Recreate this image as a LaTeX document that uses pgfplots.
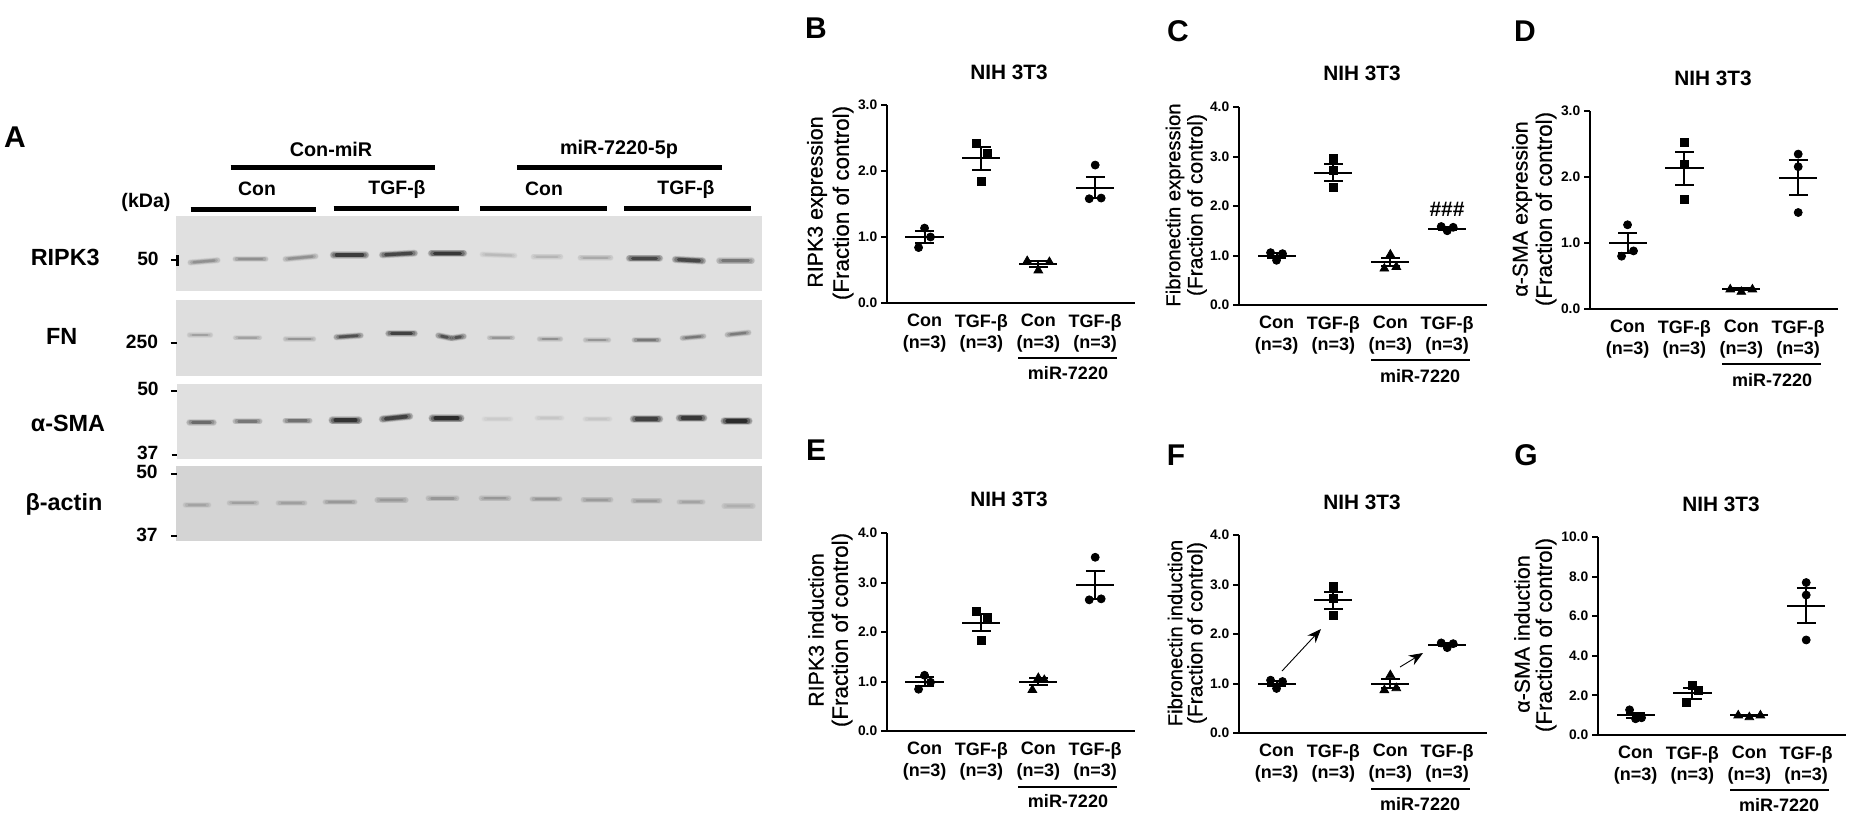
\documentclass[border=0pt]{standalone}
\usepackage{fontspec}
\setmainfont{Liberation Sans}
\newfontface\medfont{Liberation Sans}[FakeBold=0.5]
\usepackage{pgfplots}
\pgfplotsset{compat=1.18}
\usetikzlibrary{arrows.meta}

% sizes: 1 reference pixel = 0.5pt
\newcommand\fs[1]{\fontsize{#1}{#1}\selectfont}
\newcommand\T[4][]{\node[inner sep=0pt,#1] at (axis cs:#2,#3) {#4};}
% blot band with soft edge: x0 y0 x1 y1 width darkness
\newcommand\band[6]{%
  \addplot[black!#6,opacity=.14,line cap=round,line width=.8*#5pt+1.9pt,shorten <=1.2pt,shorten >=1.2pt] coordinates {(#1,#2)(#3,#4)};
  \addplot[black!#6,opacity=.22,line cap=round,line width=.8*#5pt+1.2pt,shorten <=1.2pt,shorten >=1.2pt] coordinates {(#1,#2)(#3,#4)};
  \addplot[black!#6,opacity=.32,line cap=round,line width=.8*#5pt+.6pt,shorten <=1.8pt,shorten >=1.8pt] coordinates {(#1,#2)(#3,#4)};
  \addplot[black!#6,opacity=.60,line cap=round,line width=.8*#5pt,shorten <=2.8pt,shorten >=2.8pt] coordinates {(#1,#2)(#3,#4)};
}
\newcommand\gbar[3]{\addplot[black,line width=2.6pt] coordinates {(#1,#3)(#2,#3)};}
\newcommand\blot[5]{\addplot[draw=none,fill=#5] coordinates {(#1,#3)(#2,#3)(#2,#4)(#1,#4)} -- cycle;}
\newcommand\kd[2]{\addplot[black,line width=1pt] coordinates {(#1,#2)(176.5,#2)};}

\pgfplotsset{
  panel/.style n args={4}{
    at={({#1*0.5pt},{(816-#2)*0.5pt})}, anchor=south west,
    scale only axis, width=124pt, height=99pt, clip=false,
    xmin=0.34, xmax=4.70, ymin=0, ymax=#3, ytick={#4},
    axis lines=left, axis line style={-,line width=1.25pt},
    tick align=outside, major tick length=3pt,
    ytick style={black,line width=1pt}, xtick style={draw=none},
    xtick={1,2,3,4},
    xticklabels={{Con\\(n=3)},{TGF-β\\(n=3)},{Con\\(n=3)},{TGF-β\\(n=3)}},
    x tick label style={align=center,font=\bfseries\fontsize{9}{10.8}\selectfont,yshift=1pt},
    y tick label style={font=\bfseries\fs{6.9},inner sep=1.7pt},
    /pgf/number format/.cd,fixed,fixed zerofill,precision=1,assume math mode=true,
  },
  circ/.style={only marks,mark=*,mark size=2pt,black},
  sq/.style={only marks,mark=square*,mark size=2pt,black},
  tri/.style={only marks,mark=triangle*,mark size=2.5pt,black},
  sem/.style={draw=none,mark=none,
    error bars/.cd,y dir=both,y explicit,
    error bar style={draw=black,line width=1pt},
    error mark options={draw=black,rotate=90,mark size=4.65pt,line width=1pt}},
  mean/.style={draw=none,mark=none,
    error bars/.cd,x dir=both,x fixed=0.335,error mark=none,
    error bar style={draw=black,line width=1pt}},
}

\begin{document}
\begin{tikzpicture}
\useasboundingbox (0,0) rectangle (925.5pt,408pt);

% page layer in reference pixels: blots, headings, labels
\begin{axis}[at={(0,0)},anchor=south west,scale only axis,width=925.5pt,height=408pt,
  xmin=0,xmax=1851,ymin=0,ymax=816,y dir=reverse,hide axis,clip=false]
\blot{176}{761.7}{216}{290.7}{black!12}
\blot{176}{761.7}{300}{376}{black!13}
\blot{177}{761.7}{384}{459}{black!12}
\blot{176}{761.7}{466}{541}{black!17}

\band{188}{262.7}{220}{260}{1.5}{50}
\band{233}{259}{268}{259}{1.5}{50}
\band{283}{259.3}{318}{256}{1.5}{50}
\band{331}{255}{368}{255}{2.2}{90}
\band{380}{255}{417}{253}{2.0}{85}
\band{429}{253.3}{466}{253.3}{2.2}{92}
\band{480}{254.3}{517}{255.7}{1.3}{30}
\band{531}{256.7}{563}{256.7}{1.3}{32}
\band{578}{257.7}{613}{257.7}{1.4}{38}
\band{627}{258.3}{662}{258.3}{2.2}{85}
\band{673}{259.3}{705}{261}{2.2}{85}
\band{717}{260.7}{754}{260.7}{2.0}{62}

\band{187}{335}{213}{335}{1.0}{42}
\band{233}{337.7}{262}{337.7}{1.0}{42}
\band{283}{339}{316}{339}{1.0}{48}
\band{334}{337.3}{363}{335.3}{1.6}{80}
\band{386}{333.3}{417}{333.3}{1.7}{88}
\band{436}{335}{453}{338.5}{1.7}{80}
\band{450}{338.5}{466}{336}{1.7}{80}
\band{487}{337.7}{515}{337.7}{1.0}{48}
\band{537}{339}{563}{339}{1.0}{50}
\band{583}{340}{611}{340}{1.0}{48}
\band{632}{340}{661}{340}{1.3}{62}
\band{680}{338.3}{706}{336}{1.3}{62}
\band{725}{335}{751}{332.3}{1.4}{60}

\band{187}{422.3}{216}{422.3}{1.7}{68}
\band{233}{421.3}{262}{421.3}{1.6}{62}
\band{283}{420.7}{312}{420.7}{1.6}{65}
\band{330}{420.3}{361}{420.3}{2.7}{95}
\band{380}{419.3}{412}{416}{2.3}{88}
\band{430}{418.3}{463}{418.3}{2.7}{98}
\band{482}{419}{513}{419}{1.4}{22}
\band{535}{418}{564}{418}{1.4}{24}
\band{583}{419}{612}{419}{1.4}{24}
\band{631}{419}{662}{419}{2.4}{88}
\band{677}{418}{706}{418}{2.5}{92}
\band{722}{421}{751}{421}{2.8}{98}

\band{183}{505}{211}{505}{1.2}{40}
\band{227}{502.7}{259}{502.7}{1.2}{42}
\band{276}{503}{307}{503}{1.3}{42}
\band{323}{502}{357}{502}{1.4}{45}
\band{375}{500}{408}{500}{1.7}{45}
\band{426}{498.3}{459}{498.3}{1.5}{46}
\band{479}{498.3}{511}{498.3}{1.4}{46}
\band{530}{499}{562}{499}{1.5}{46}
\band{581}{499.7}{613}{499.7}{1.5}{44}
\band{631}{500.7}{662}{500.7}{1.5}{44}
\band{677}{502}{705}{502}{1.5}{40}
\band{722}{506}{755}{506}{1.8}{34}

\gbar{230.7}{434.7}{167.3}
\gbar{517.3}{721.7}{167.3}
\gbar{190.7}{316}{209.3}
\gbar{333.7}{459.3}{208.3}
\gbar{480}{606.7}{208.3}
\gbar{624.3}{750.7}{208.3}
\kd{171}{260}\kd{170.5}{343}\kd{171}{391}\kd{171.5}{455}\kd{171}{474}\kd{171}{536}
\addplot[black,line width=1.3pt] coordinates {(177.5,255)(177.5,266)};

\T[font=\bfseries\fs{9.9}]{331}{149.3}{Con-miR}
\T[font=\bfseries\fs{9.9}]{619}{149.5}{miR-7220-5p}
\T[font=\bfseries\fs{9.7}]{257}{189.3}{Con}
\T[font=\bfseries\fs{9.7}]{397}{189.3}{TGF-β}
\T[font=\bfseries\fs{9.7}]{544}{189.3}{Con}
\T[font=\bfseries\fs{9.7}]{686}{189.3}{TGF-β}
\T[font=\bfseries\fs{9.8}]{146}{202.7}{(kDa)}
\T[font=\bfseries\fs{11.7}]{65.3}{257}{RIPK3}
\T[font=\bfseries\fs{11.7}]{61.7}{336.7}{FN}
\T[font=\bfseries\fs{11.7}]{68}{423}{α-SMA}
\T[font=\bfseries\fs{11.7}]{64}{504}{β-actin}
\T[font=\bfseries\fs{9.6}]{148}{259}{50}
\T[font=\bfseries\fs{9.6}]{142}{342}{250}
\T[font=\bfseries\fs{9.6}]{148}{389}{50}
\T[font=\bfseries\fs{9.6}]{147.7}{453}{37}
\T[font=\bfseries\fs{9.6}]{147}{472}{50}
\T[font=\bfseries\fs{9.6}]{147}{535}{37}

\T[font=\bfseries\fs{15}]{15}{137}{A}
\T[font=\bfseries\fs{15}]{816}{28}{B}
\T[font=\bfseries\fs{15}]{1178}{31}{C}
\T[font=\bfseries\fs{15}]{1525}{31}{D}
\T[font=\bfseries\fs{15}]{816}{450}{E}
\T[font=\bfseries\fs{15}]{1176}{455}{F}
\T[font=\bfseries\fs{15}]{1526}{455}{G}

\T[font=\bfseries\fs{10.4}]{1009}{72}{NIH 3T3}
\T[font=\bfseries\fs{10.4}]{1362}{73}{NIH 3T3}
\T[font=\bfseries\fs{10.4}]{1713}{78}{NIH 3T3}
\T[font=\bfseries\fs{10.4}]{1009}{499}{NIH 3T3}
\T[font=\bfseries\fs{10.4}]{1362}{502}{NIH 3T3}
\T[font=\bfseries\fs{10.4}]{1721}{504}{NIH 3T3}

\T[rotate=90,font=\medfont\fs{10.7}]{817}{202}{RIPK3 expression}
\T[rotate=90,font=\medfont\fs{11.2}]{843}{203}{(Fraction of control)}
\T[rotate=90,font=\medfont\fs{10.1}]{1175}{205}{Fibronectin expression}
\T[rotate=90,font=\medfont\fs{10.5}]{1197}{205}{(Fraction of control)}
\T[rotate=90,font=\medfont\fs{10.7}]{1522}{209}{α-SMA expression}
\T[rotate=90,font=\medfont\fs{11.2}]{1546}{209}{(Fraction of control)}
\T[rotate=90,font=\medfont\fs{10.7}]{816}{630}{RIPK3 induction}
\T[rotate=90,font=\medfont\fs{11.2}]{842}{630}{(Fraction of control)}
\T[rotate=90,font=\medfont\fs{10.1}]{1175}{633}{Fibronectin induction}
\T[rotate=90,font=\medfont\fs{10.5}]{1197}{633}{(Fraction of control)}
\T[rotate=90,font=\medfont\fs{10.7}]{1522}{634}{α-SMA induction}
\T[rotate=90,font=\medfont\fs{11.2}]{1546}{635}{(Fraction of control)}

\T[font=\bfseries\fs{10.5}]{1447}{209}{\#\#\#}

\addplot[black,line width=1pt] coordinates {(1018,358)(1117,358)};
\addplot[black,line width=1pt] coordinates {(1371,360)(1470,360)};
\addplot[black,line width=1pt] coordinates {(1722,364)(1821,364)};
\addplot[black,line width=1pt] coordinates {(1018,787)(1117,787)};
\addplot[black,line width=1pt] coordinates {(1371,789)(1470,789)};
\addplot[black,line width=1pt] coordinates {(1730,790)(1829,790)};
\T[font=\bfseries\fs{9}]{1068}{373}{miR-7220}
\T[font=\bfseries\fs{9}]{1420}{376}{miR-7220}
\T[font=\bfseries\fs{9}]{1772}{380}{miR-7220}
\T[font=\bfseries\fs{9}]{1068}{801}{miR-7220}
\T[font=\bfseries\fs{9}]{1420}{804}{miR-7220}
\T[font=\bfseries\fs{9}]{1779}{805}{miR-7220}

\addplot[black,line width=.45pt,-{Stealth[length=7pt,width=5.5pt]}] coordinates {(1282,671)(1321,629)};
\addplot[black,line width=.45pt,-{Stealth[length=7pt,width=5.5pt]}] coordinates {(1400,667)(1423,653)};
\end{axis}

% B
\begin{axis}[panel={887}{303}{3}{0,1,2,3}]
\addplot[circ] coordinates {(1,1.135)(1.105,1.0)(0.895,0.84)};
\addplot[sq] coordinates {(1.905,2.42)(2.105,2.27)(2,1.85)};
\addplot[tri] coordinates {(2.805,0.635)(3,0.494)(3.195,0.62)};
\addplot[circ] coordinates {(4,2.09)(3.895,1.58)(4.105,1.59)};
\addplot[sem] coordinates {(1,1.0) +- (0,0.095) (2,2.19) +- (0,0.18) (3,0.585) +- (0,0.045) (4,1.75) +- (0,0.165)};
\addplot[mean] coordinates {(1,1.0)(2,2.19)(3,0.585)(4,1.75)};
\end{axis}

% C
\begin{axis}[panel={1239}{305}{4}{0,1,2,3,4}]
\addplot[circ] coordinates {(0.895,1.057)(1,0.903)(1.105,1.037)};
\addplot[sq] coordinates {(2,2.956)(2,2.71)(2,2.37)};
\addplot[tri] coordinates {(3,1.017)(2.895,0.736)(3.105,0.77)};
\addplot[circ] coordinates {(3.895,1.585)(4,1.5)(4.105,1.57)};
\addplot[sem] coordinates {(1,1.0) +- (0,0.045) (2,2.676) +- (0,0.17) (3,0.87) +- (0,0.088) (4,1.545) +- (0,0.025)};
\addplot[mean] coordinates {(1,1.0)(2,2.676)(3,0.87)(4,1.545)};
\end{axis}

% D
\begin{axis}[panel={1590}{309}{3}{0,1,2,3}]
\addplot[circ] coordinates {(1,1.276)(1.105,0.88)(0.895,0.80)};
\addplot[sq] coordinates {(2,2.52)(2,2.196)(2,1.658)};
\addplot[tri] coordinates {(2.805,0.296)(3,0.26)(3.195,0.296)};
\addplot[circ] coordinates {(4,2.347)(4,2.156)(4,1.462)};
\addplot[sem] coordinates {(1,1.0) +- (0,0.15) (2,2.13) +- (0,0.25) (3,0.296) +- (0,0.015) (4,1.99) +- (0,0.27)};
\addplot[mean] coordinates {(1,1.0)(2,2.13)(3,0.296)(4,1.99)};
\end{axis}

% E
\begin{axis}[panel={887}{731}{4}{0,1,2,3,4}]
\addplot[circ] coordinates {(1,1.126)(1.105,0.985)(0.895,0.844)};
\addplot[sq] coordinates {(1.905,2.425)(2.105,2.29)(2,1.84)};
\addplot[tri] coordinates {(3,1.07)(3.105,1.03)(2.895,0.83)};
\addplot[circ] coordinates {(4,3.51)(3.895,2.65)(4.105,2.67)};
\addplot[sem] coordinates {(1,1.0) +- (0,0.09) (2,2.19) +- (0,0.175) (3,1.0) +- (0,0.075) (4,2.95) +- (0,0.28)};
\addplot[mean] coordinates {(1,1.0)(2,2.19)(3,1.0)(4,2.95)};
\end{axis}

% F
\begin{axis}[panel={1239}{733}{4}{0,1,2,3,4}]
\addplot[circ] coordinates {(0.895,1.067)(1,0.9)(1.105,1.04)};
\addplot[sq] coordinates {(2,2.96)(2,2.71)(2,2.37)};
\addplot[tri] coordinates {(3,1.168)(2.895,0.866)(3.105,0.906)};
\addplot[circ] coordinates {(3.895,1.82)(4,1.725)(4.105,1.805)};
\addplot[sem] coordinates {(1,1.0) +- (0,0.05) (2,2.68) +- (0,0.17) (3,1.0) +- (0,0.1) (4,1.78) +- (0,0.03)};
\addplot[mean] coordinates {(1,1.0)(2,2.68)(3,1.0)(4,1.78)};
\end{axis}

% G
\begin{axis}[panel={1598}{735}{10}{0,2,4,6,8,10}]
\addplot[circ] coordinates {(0.895,1.27)(1,0.82)(1.105,0.87)};
\addplot[sq] coordinates {(2,2.53)(2.105,2.24)(1.895,1.66)};
\addplot[tri] coordinates {(2.805,0.99)(3,0.9)(3.195,0.99)};
\addplot[circ] coordinates {(4,7.7)(4,7.07)(4,4.8)};
\addplot[sem] coordinates {(1,1.0) +- (0,0.13) (2,2.11) +- (0,0.27) (3,0.99) +- (0,0.03) (4,6.53) +- (0,0.89)};
\addplot[mean] coordinates {(1,1.0)(2,2.11)(3,0.99)(4,6.53)};
\end{axis}
\end{tikzpicture}
\end{document}
